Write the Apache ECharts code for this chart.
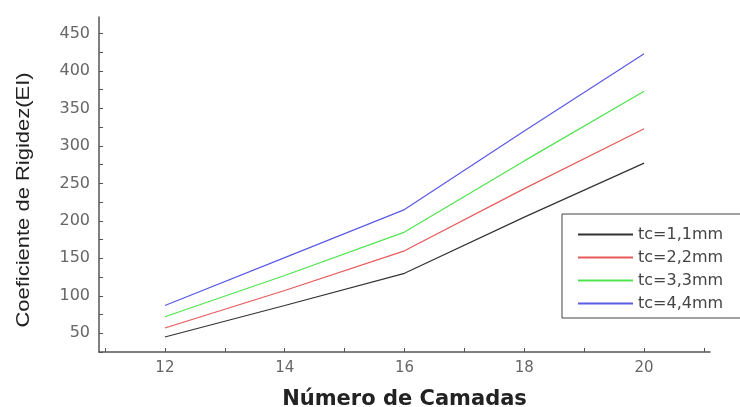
<!DOCTYPE html>
<html>
<head>
<meta charset="utf-8">
<script src="https://cdn.jsdelivr.net/npm/echarts@6/dist/echarts.min.js"></script>
<style>
html,body{margin:0;padding:0;background:#fff;}
#main{width:740px;height:407px;}
</style>
</head>
<body>
<div id="main"></div>
<script>
// numero de camadas
var camadas = [12, 14, 16, 18, 20];
var tc11 = [45, 87, 130, 205, 277];
var tc22 = [57, 107, 160, 243, 323];
var tc33 = [72, 127, 185, 280, 373];
var tc44 = [87, 151, 215, 320, 423];
var nomes = ['tc=1,1mm', 'tc=2,2mm', 'tc=3,3mm', 'tc=4,4mm'];
var cores = ['#333333', '#e65a5a', '#4ee44e', '#5a5ae6'];
var xLabels = [12, 14, 16, 18, 20];
var xTicks = [11, 12, 13, 14, 15, 16, 17, 18, 19, 20, 21];
var yLabels = [50, 100, 150, 200, 250, 300, 350, 400, 450];
var yTicks = [25, 50, 75, 100, 125, 150, 175, 200, 225, 250, 275, 300, 325, 350, 375, 400, 425, 450];

function pares(vals) {
    var d = [];
    for (var i = 0; i < camadas.length; i++) {
        d.push([camadas[i], vals[i]]);
    }
    return d;
}

var myChart = echarts.init(document.getElementById('main'));
var eixo = {
    lineStyle: {color: '#555', width: 1.5}
};
var option = {
    backgroundColor: '#FFFFFF',
    animation: false,
    grid: {
        left: 99,
        right: 30,
        top: 17,
        bottom: 55,
        containLabel: false,
        outerBoundsMode: 'none'
    },
    legend: {
        orient: 'vertical',
        left: 562,
        top: 214,
        padding: [12, 20, 6, 16],
        itemGap: 6,
        itemWidth: 55,
        itemHeight: 2,
        borderColor: '#444',
        borderWidth: 1,
        icon: 'rect',
        textStyle: {fontFamily: 'DejaVu Sans', fontSize: 16, color: '#444', lineHeight: 17},
        data: nomes
    },
    graphic: [{
        type: 'text',
        x: 24,
        y: 200,
        rotation: Math.PI / 2,
        scaleX: 1.22,
        style: {
            text: 'Coeficiente de Rigidez(EI)',
            font: '18px "Liberation Sans"',
            fill: '#222',
            align: 'center',
            verticalAlign: 'middle'
        }
    }],
    xAxis: {
        type: 'value',
        min: 10.9,
        max: 21.1,
        name: 'Número de Camadas',
        nameLocation: 'middle',
        nameGap: 37,
        nameMoveOverlap: false,
        nameTextStyle: {fontFamily: 'DejaVu Sans', fontSize: 21, fontWeight: 'bold', color: '#222'},
        axisLine: eixo,
        axisTick: {inside: true, length: 4, lineStyle: {color: '#555'}, customValues: xTicks},
        axisLabel: {
            fontFamily: 'DejaVu Sans', fontSize: 15, color: '#666', margin: 9,
            customValues: xLabels
        },
        splitLine: {show: false}
    },
    yAxis: {
        type: 'value',
        min: 25,
        max: 472,
        axisLine: eixo,
        axisTick: {inside: true, length: 4, lineStyle: {color: '#555'}, customValues: yTicks},
        axisLabel: {
            fontFamily: 'DejaVu Sans', fontSize: 16, color: '#666', margin: 9,
            customValues: yLabels
        },
        splitLine: {show: false}
    },
    series: [
        {name: nomes[0], type: 'line', data: pares(tc11), showSymbol: false, lineStyle: {width: 1.2}, color: cores[0]},
        {name: nomes[1], type: 'line', data: pares(tc22), showSymbol: false, lineStyle: {width: 1.2}, color: cores[1]},
        {name: nomes[2], type: 'line', data: pares(tc33), showSymbol: false, lineStyle: {width: 1.2}, color: cores[2]},
        {name: nomes[3], type: 'line', data: pares(tc44), showSymbol: false, lineStyle: {width: 1.2}, color: cores[3]}
    ]
};
myChart.setOption(option);
</script>
</body>
</html>
